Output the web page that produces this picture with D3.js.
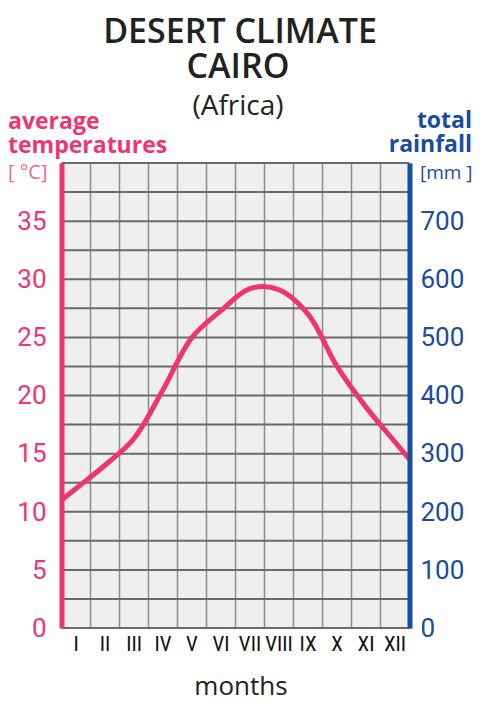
<!DOCTYPE html>
<html>
<head>
<meta charset="utf-8">
<script src="https://cdn.jsdelivr.net/npm/d3@7"></script>
<style>
  html, body { margin: 0; padding: 0; background: #fff; }
  svg { display: block; }
</style>
</head>
<body>
<svg width="480" height="712"></svg>
<script>
var months = ['I', 'II', 'III', 'IV', 'V', 'VI', 'VII', 'VIII', 'IX', 'X', 'XI', 'XII']
var temps = [12.0, 14.0, 16.3, 20.5, 25.0, 27.3, 29.2, 29.1, 27.0, 22.5, 19.0, 16.0]
var tempTicks = [0, 5, 10, 15, 20, 25, 30, 35]
var rainTicks = [0, 100, 200, 300, 400, 500, 600, 700]

var pink = '#ee3572'
var blue = '#1b4c9f'

var svg = d3.select('svg')

// plot box (window.top is reserved, so use own names)
var pLeft = 61.5, pRight = 409.5, pTop = 163, pBottom = 628

var x = d3.scaleBand().domain(months).range([pLeft, pRight])
var yT = d3.scaleLinear().domain([0, 40]).range([pBottom, pTop])
var yR = d3.scaleLinear().domain([0, 800]).range([pBottom, pTop])

// title
svg.append('text').attr('x', 240).attr('y', 43)
    .attr('text-anchor', 'middle')
    .style('font', '600 34px "Open Sans"').style('fill', '#222')
    .text('DESERT CLIMATE')
svg.append('text').attr('x', 238).attr('y', 78)
    .attr('text-anchor', 'middle')
    .style('font', '600 34px "Open Sans"').style('fill', '#222')
    .text('CAIRO')
svg.append('text').attr('x', 238).attr('y', 115)
    .attr('text-anchor', 'middle')
    .style('font', '400 28px "Open Sans"').style('fill', '#222')
    .text('(Africa)')

// plot background + grid
svg.append('rect')
    .attr('x', pLeft).attr('y', pTop)
    .attr('width', pRight - pLeft).attr('height', pBottom - pTop)
    .style('fill', '#efefef')

svg.append('g')
    .selectAll('line')
    .data(months.slice(1))
    .enter()
    .append('line')
    .attr('x1', function(d){ return x(d) })
    .attr('x2', function(d){ return x(d) })
    .attr('y1', pTop)
    .attr('y2', pBottom)
    .style('stroke', '#8c8c8c')
    .style('stroke-width', 1.5)

svg.append('g')
    .selectAll('line')
    .data(d3.range(0, 40.1, 2.5))
    .enter()
    .append('line')
    .attr('x1', pLeft)
    .attr('x2', pRight)
    .attr('y1', function(d){ return yT(d) })
    .attr('y2', function(d){ return yT(d) })
    .style('stroke', '#6a6a6a')
    .style('stroke-width', 2)

// temperature curve, ends extended linearly to the plot edges
var pts = months.map(function(m, i){
    return [x(m) + x.bandwidth() / 2, temps[i]]
})
var n = temps.length
pts.unshift([pLeft, temps[0] - (temps[1] - temps[0]) / 2])
pts.push([pRight, temps[n - 1] + (temps[n - 1] - temps[n - 2]) / 2])

svg.append('defs').append('clipPath').attr('id', 'plot')
    .append('rect')
    .attr('x', pLeft).attr('y', pTop)
    .attr('width', pRight - pLeft).attr('height', pBottom - pTop)

svg.append('path')
    .datum(pts)
    .attr('clip-path', 'url(#plot)')
    .attr('d', d3.line()
        .x(function(d){ return d[0] })
        .y(function(d){ return yT(d[1]) })
        .curve(d3.curveCatmullRom.alpha(0.5)))
    .style('fill', 'none')
    .style('stroke', pink)
    .style('stroke-width', 5)
    .style('stroke-linejoin', 'round')

// left axis
var axL = svg.append('g')
    .attr('transform', 'translate(' + pLeft + ',0)')
    .call(d3.axisLeft(yT).tickValues(tempTicks).tickSize(0).tickPadding(15))
axL.select('.domain').style('stroke', pink).style('stroke-width', 5)
axL.selectAll('text')
    .style('font', '400 26px Roboto').style('fill', pink)

// right axis
var axR = svg.append('g')
    .attr('transform', 'translate(' + pRight + ',0)')
    .call(d3.axisRight(yR).tickValues(rainTicks).tickSize(0).tickPadding(11))
axR.select('.domain').style('stroke', blue).style('stroke-width', 5)
axR.selectAll('text')
    .style('font', '400 26px Roboto').style('fill', blue)

// month axis
var axB = svg.append('g')
    .attr('transform', 'translate(0,' + pBottom + ')')
    .call(d3.axisBottom(x).tickSize(0).tickPadding(8))
axB.select('.domain').remove()
axB.selectAll('text')
    .style('font', '400 21px "Liberation Sans Narrow", "Roboto Condensed", Roboto')
    .style('fill', '#111')

// axis titles
svg.append('text').attr('x', 8).attr('y', 129)
    .style('font', '700 23px "Open Sans"').style('fill', pink)
    .text('average')
svg.append('text').attr('x', 8).attr('y', 153)
    .style('font', '700 23px "Open Sans"').style('fill', pink)
    .text('temperatures')
svg.append('text').attr('x', 8).attr('y', 179)
    .style('font', '400 20px "Open Sans"').style('fill', '#f0678f')
    .text('[ °C]')

svg.append('text').attr('x', 472).attr('y', 128)
    .attr('text-anchor', 'end')
    .style('font', '700 23px "Open Sans"').style('fill', blue)
    .text('total')
svg.append('text').attr('x', 472).attr('y', 152)
    .attr('text-anchor', 'end')
    .style('font', '700 23px "Open Sans"').style('fill', blue)
    .text('rainfall')
svg.append('text').attr('x', 420).attr('y', 179)
    .style('font', '400 19px "Open Sans"').style('fill', blue)
    .text('[mm ]')

svg.append('text').attr('x', 241).attr('y', 695)
    .attr('text-anchor', 'middle')
    .style('font', '400 26px "Open Sans"').style('fill', '#222')
    .text('months')
</script>
</body>
</html>
